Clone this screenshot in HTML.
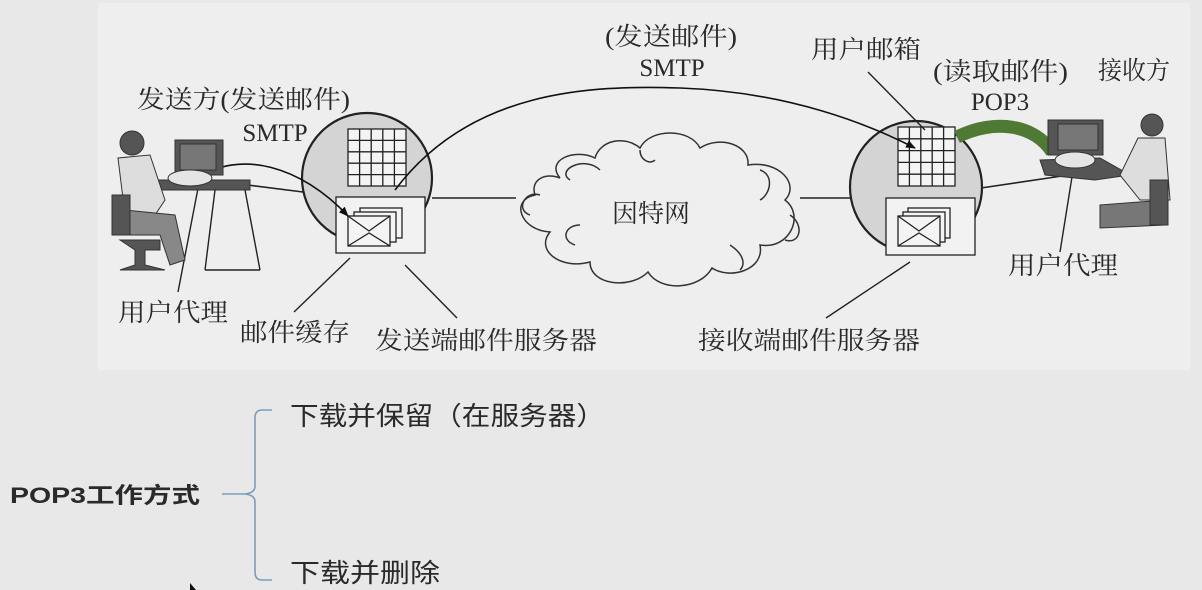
<!DOCTYPE html>
<html><head><meta charset="utf-8"><style>
html,body{margin:0;padding:0;background:#e7e7e7;}
svg{display:block;}
text{font-family:"Liberation Serif","Noto Serif CJK SC",serif;fill:#2a2a2a;}
.s{font-family:"Liberation Sans","Noto Sans CJK SC",sans-serif;}
</style></head><body>
<svg width="1202" height="590" viewBox="0 0 1202 590" xmlns="http://www.w3.org/2000/svg">
<defs>
<marker id="ar" markerWidth="10" markerHeight="8" refX="9" refY="4" orient="auto" markerUnits="userSpaceOnUse"><path d="M0,0 L10,4 L0,8 Z" fill="#111"/></marker>
</defs>
<rect x="0" y="0" width="1202" height="590" fill="#e8e8e8"/>
<rect x="98" y="3" width="1092" height="367" fill="#eeeeee"/>

<!-- connectors horizontal -->
<g stroke="#222" stroke-width="1.6" fill="none">
<line x1="240" y1="184" x2="303" y2="192"/>
<line x1="432" y1="198" x2="516" y2="198"/>
<line x1="800" y1="198" x2="851" y2="198"/>
<line x1="981" y1="188" x2="1062" y2="176"/>
</g>

<!-- left circle -->
<circle cx="367" cy="178" r="65" fill="#d4d4d4" stroke="#222" stroke-width="2.2"/>
<g stroke="#222" stroke-width="1.3" fill="#f4f4f4">
<rect x="348" y="129" width="58" height="57"/>
<path d="M359.6,129V186M371.2,129V186M382.8,129V186M394.4,129V186M348,140.4H406M348,151.8H406M348,163.2H406M348,174.6H406" fill="none"/>
<rect x="336" y="197" width="89" height="56" fill="#f2f2f2"/>
<rect x="360" y="208" width="42" height="30"/>
<rect x="354" y="212" width="42" height="30"/>
<rect x="348" y="216" width="42" height="30"/>
<path d="M348,216 L369,231 L390,216 M348,246 L369,233 L390,246" fill="none"/>
</g>

<!-- right circle -->
<circle cx="916" cy="187" r="66" fill="#d4d4d4" stroke="#222" stroke-width="2.2"/>
<g stroke="#222" stroke-width="1.3" fill="#f4f4f4">
<rect x="898" y="127" width="57" height="59"/>
<path d="M909.4,127V186M920.8,127V186M932.2,127V186M943.6,127V186M898,138.8H955M898,150.6H955M898,162.4H955M898,174.2H955" fill="none"/>
<rect x="886" y="198" width="89" height="57" fill="#f2f2f2"/>
<rect x="908" y="208" width="42" height="30"/>
<rect x="903" y="212" width="42" height="30"/>
<rect x="898" y="216" width="42" height="30"/>
<path d="M898,216 L919,231 L940,216 M898,246 L919,233 L940,246" fill="none"/>
</g>

<!-- cloud -->
<g stroke="#333" stroke-width="1.5" fill="#efefef">
<path d="M560,178 C545,160 575,148 595,158 C600,140 625,135 640,148 C650,128 690,128 700,148 C720,135 750,145 748,165 C780,160 800,185 785,200 C805,215 790,250 760,245 C765,270 730,280 712,268 C700,290 660,292 648,272 C630,290 590,285 590,262 C560,270 535,250 550,232 C520,230 510,200 535,195 C530,180 545,172 560,178 Z"/>
<path d="M570,180 C555,170 585,155 600,170 M760,170 C775,175 770,195 760,200 M575,245 C560,240 565,225 580,225 M730,245 C745,255 745,265 740,270 M640,150 C640,160 650,165 655,160"/>
<path d="M540,195 C525,190 515,210 530,215 M790,215 C805,225 800,245 785,240" fill="none"/>
</g>

<!-- long SMTP arc -->
<path d="M395,190 C470,90 590,85 680,88 C790,92 870,125 915,148" stroke="#111" stroke-width="1.6" fill="none" marker-end="url(#ar)"/>
<!-- left arc user agent -> envelope -->
<path d="M198,178 C240,150 300,165 348,216" stroke="#111" stroke-width="1.6" fill="none" marker-end="url(#ar)"/>

<!-- green POP3 arc -->
<path d="M957,137 C995,118 1035,125 1052,152" stroke="#4f7a33" stroke-width="13" fill="none"/>
<path d="M1050,140 L1070,158" stroke="#111" stroke-width="1.5" marker-end="url(#ar)"/>

<!-- leader lines -->
<g stroke="#222" stroke-width="1.4">
<line x1="178" y1="292" x2="200" y2="178"/>
<line x1="294" y1="312" x2="350" y2="258"/>
<line x1="457" y1="318" x2="405" y2="265"/>
<line x1="826" y1="318" x2="910" y2="262"/>
<line x1="1060" y1="252" x2="1075" y2="158"/>
<line x1="868" y1="72" x2="925" y2="130"/>
</g>

<!-- sender person -->
<g fill="#666" stroke="#333" stroke-width="1">
<rect x="175" y="140" width="48" height="35" fill="#555"/>
<rect x="180" y="144" width="36" height="26" fill="#777"/>
<rect x="150" y="180" width="100" height="10" fill="#555"/>
<path d="M215,190 L205,270 M245,190 L260,270 M205,270 L260,270" fill="none" stroke="#222" stroke-width="1.4"/>
<circle cx="132" cy="143" r="12" fill="#555"/>
<path d="M118,158 L150,155 L165,200 L155,215 L125,215 Z" fill="#ddd"/>
<path d="M125,210 L175,215 L185,260 L170,265 L160,235 L125,235 Z" fill="#888"/>
<rect x="112" y="195" width="18" height="40" fill="#555"/>
<path d="M120,240 L160,240 L160,250 L145,250 L145,265 L165,270 L120,270 L135,265 L135,250 Z" fill="#555"/>
<ellipse cx="190" cy="178" rx="22" ry="8" fill="#e5e5e5"/>
</g>

<!-- receiver person -->
<g fill="#666" stroke="#333" stroke-width="1">
<rect x="1048" y="120" width="55" height="35" fill="#555"/>
<rect x="1058" y="124" width="40" height="26" fill="#777"/>
<path d="M1040,160 L1100,158 L1130,175 L1095,180 L1045,175 Z" fill="#555"/>
<ellipse cx="1075" cy="160" rx="20" ry="8" fill="#e5e5e5"/>
<circle cx="1152" cy="125" r="11" fill="#555"/>
<path d="M1138,138 L1165,138 L1170,200 L1140,200 L1120,175 Z" fill="#ddd"/>
<path d="M1100,205 L1165,200 L1165,225 L1100,228 Z" fill="#777"/>
<rect x="1150" y="180" width="18" height="45" fill="#555"/>
</g>

<!-- labels -->
<g font-size="25">
<text x="605" y="45" textLength="132" lengthAdjust="spacingAndGlyphs">(发送邮件)</text>
<text x="672" y="76" text-anchor="middle">SMTP</text>
<text x="811" y="58" textLength="110" lengthAdjust="spacingAndGlyphs">用户邮箱</text>
<text x="933" y="80" textLength="135" lengthAdjust="spacingAndGlyphs">(读取邮件)</text>
<text x="1000" y="110" text-anchor="middle">POP3</text>
<text x="1098" y="79" textLength="72" lengthAdjust="spacingAndGlyphs">接收方</text>
<text x="137" y="108" textLength="213" lengthAdjust="spacingAndGlyphs">发送方(发送邮件)</text>
<text x="275" y="141" text-anchor="middle">SMTP</text>
<text x="612" y="222" textLength="78" lengthAdjust="spacingAndGlyphs">因特网</text>
<text x="118" y="321" textLength="110" lengthAdjust="spacingAndGlyphs">用户代理</text>
<text x="240" y="341" textLength="110" lengthAdjust="spacingAndGlyphs">邮件缓存</text>
<text x="375" y="349" textLength="222" lengthAdjust="spacingAndGlyphs">发送端邮件服务器</text>
<text x="698" y="349" textLength="222" lengthAdjust="spacingAndGlyphs">接收端邮件服务器</text>
<text x="1008" y="274" textLength="110" lengthAdjust="spacingAndGlyphs">用户代理</text>
</g>

<!-- bottom -->
<text class="s" x="10" y="503" font-size="22" font-weight="bold" fill="#111" textLength="190" lengthAdjust="spacingAndGlyphs">POP3工作方式</text>
<path d="M272,410 L262,410 Q255,410 255,418 L255,486 Q255,493 245,494 L222,494 M245,494 Q255,495 255,502 L255,572 Q255,580 262,580 L272,580" stroke="#7c9bbd" stroke-width="1.6" fill="none"/>
<text class="s" x="290" y="425" font-size="26" fill="#333" textLength="315" lengthAdjust="spacingAndGlyphs">下载并保留（在服务器）</text>
<text class="s" x="290" y="582" font-size="26" fill="#333" textLength="150" lengthAdjust="spacingAndGlyphs">下载并删除</text>
<path d="M190,583 L190,590 L196,590 Z" fill="#111"/>
</svg>
</body></html>
